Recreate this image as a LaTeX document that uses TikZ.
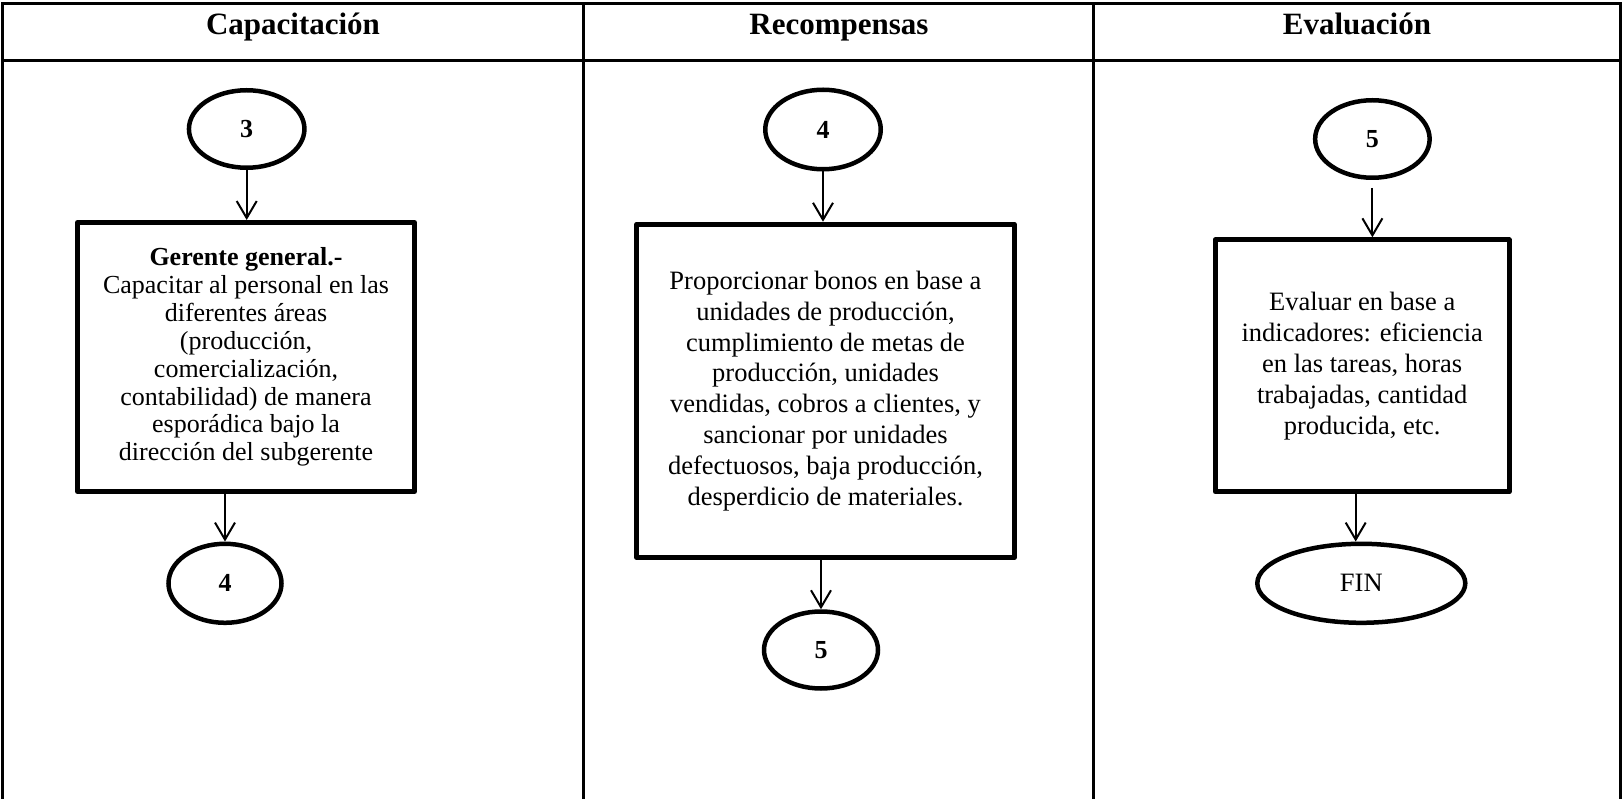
\documentclass[tikz,border=0pt]{standalone}
\usepackage{fontspec}
\setmainfont{Liberation Serif}
\usetikzlibrary{shapes.geometric,arrows.meta}
\begin{document}
\begin{tikzpicture}[x=1pt,y=-1pt,
  grid/.style={line width=3pt,line join=miter},
  head/.style={font=\fontsize{31}{37}\selectfont\bfseries,anchor=base},
  stepbox/.style={draw,rectangle,line width=5pt,line join=round,inner sep=0pt,align=center},
  conn/.style={draw,ellipse,line width=4.5pt,inner sep=0pt,font=\fontsize{26}{30}\selectfont\bfseries},
  arr/.style={line width=2pt,-{Straight Barb[length=17pt,width=20pt,line width=2pt]}}
]
\useasboundingbox (0,0) rectangle (1623,799);

% table frame and column rules
\draw[grid] (2,799) -- (2,4) -- (1620.7,4) -- (1620.7,799);
\draw[grid] (2,61) -- (1620.7,61);
\draw[grid] (583.7,4) -- (583.7,799);
\draw[grid] (1093.7,4) -- (1093.7,799);

% column headings
\node[head] (h1) at (293,35) {Capacitación};
\node[head] (h2) at (839,35) {Recompensas};
\node[head] (h3) at (1357,35) {Evaluación};

% Capacitación
\node[conn,minimum width=115.5pt,minimum height=77.5pt] (c3) at (246.7,129) {3};
\node[stepbox,minimum width=337pt,minimum height=269pt,
      font=\fontsize{26}{27.9}\selectfont] (b1) at (246,357)
  {\textbf{Gerente general.-}\\Capacitar al personal en las\\diferentes áreas\\(producción,\\comercialización,\\contabilidad) de manera\\esporádica bajo la\\dirección del subgerente};
\node[conn,minimum width=113pt,minimum height=79pt] (c4a) at (225,583.3) {4};
\draw[arr] (c3.south) -- (c3.south |- b1.north);
\draw[arr] (b1.south -| c4a.north) -- (c4a.north);

% Recompensas
\node[conn,minimum width=115.5pt,minimum height=79.5pt] (c4b) at (823,129.5) {4};
\node[stepbox,minimum width=377.4pt,minimum height=333.3pt,
      font=\fontsize{26.5}{30.8}\selectfont] (b2) at (825.5,390.9)
  {Proporcionar bonos en base a\\unidades de producción,\\cumplimiento de metas de\\producción, unidades\\vendidas, cobros a clientes, y\\sancionar por unidades\\defectuosos, baja producción,\\desperdicio de materiales.};
\node[conn,minimum width=114pt,minimum height=77pt] (c5b) at (821,650) {5};
\draw[arr] (c4b.south) -- (c4b.south |- b2.north);
\draw[arr] (b2.south -| c5b.north) -- (c5b.north);

% Evaluación
\node[conn,minimum width=114.5pt,minimum height=77.5pt] (c5c) at (1372.4,139) {5};
\node[stepbox,minimum width=294pt,minimum height=252pt,
      font=\fontsize{26.5}{31}\selectfont] (b3) at (1362.2,365.8)
  {Evaluar en base a\\indicadores: eficiencia\\en las tareas, horas\\trabajadas, cantidad\\producida, etc.};
\node[conn,minimum width=208pt,minimum height=79pt,
      font=\fontsize{26.5}{30}\selectfont] (fin) at (1361.3,583.3) {FIN};
\draw[arr,shorten <=8pt] (c5c.south) -- (c5c.south |- b3.north);
\draw[arr] ([xshift=-5.6pt]b3.south -| fin.north) -- ([xshift=-5.6pt]fin.north);
\end{tikzpicture}
\end{document}
